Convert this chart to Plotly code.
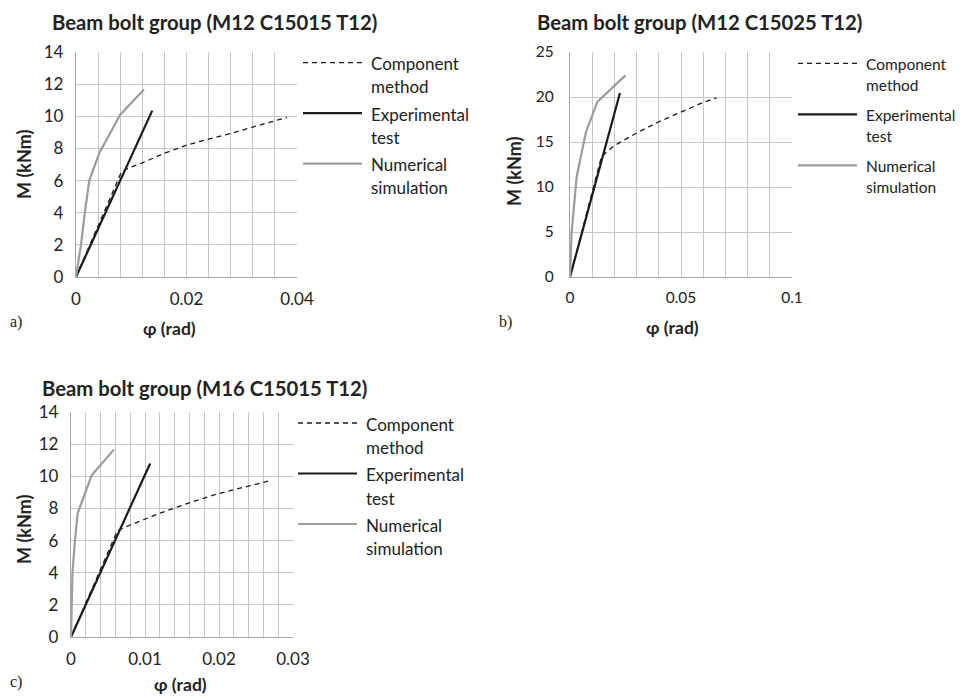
import plotly.graph_objects as go

# ---------------- data ----------------
series_names = ["Component method", "Experimental test", "Numerical simulation"]
legend_lines = [["Component", "method"], ["Experimental", "test"], ["Numerical", "simulation"]]

titles = ["Beam bolt group (M12 C15015 T12)",
          "Beam bolt group (M12 C15025 T12)",
          "Beam bolt group (M16 C15015 T12)"]
panel_tags = ["a)", "b)", "c)"]

# panel a
a_comp_x = [0, 0.00825, 0.010, 0.012, 0.016, 0.020, 0.024, 0.028, 0.032, 0.0382]
a_comp_y = [0, 6.56, 6.85, 7.10, 7.70, 8.20, 8.58, 8.93, 9.33, 9.93]
a_exp_x = [0, 0.0138]
a_exp_y = [0, 10.35]
a_num_x = [0, 0.0009, 0.0016, 0.0024, 0.0042, 0.0080, 0.0123]
a_num_y = [0, 2.0, 4.0, 6.0, 7.7, 10.1, 11.66]

# panel b
b_comp_x = [0, 0.0142, 0.020, 0.030, 0.040, 0.050, 0.060, 0.066]
b_comp_y = [0, 13.4, 14.6, 16.0, 17.25, 18.35, 19.4, 19.9]
b_exp_x = [0, 0.0225]
b_exp_y = [0, 20.45]
b_num_x = [0, 0.00075, 0.0030, 0.0072, 0.0123, 0.0250]
b_num_y = [0, 5.0, 11.15, 16.1, 19.46, 22.4]

# panel c
c_comp_x = [0, 0.00627, 0.008, 0.012, 0.016, 0.020, 0.024, 0.0268]
c_comp_y = [0, 6.62, 6.97, 7.70, 8.35, 8.93, 9.39, 9.72]
c_exp_x = [0, 0.0107]
c_exp_y = [0, 10.8]
c_num_x = [0, 0.0001, 0.0002, 0.0005, 0.0009, 0.0028, 0.0058]
c_num_y = [0, 2.0, 4.0, 5.8, 7.7, 10.07, 11.66]

# axis settings per panel
x_ranges = [[0, 0.04], [0, 0.1], [0, 0.03]]
x_dticks = [0.02, 0.05, 0.01]
x_minor = [0.004, 0.01, 0.002]
y_ranges = [[0, 14], [0, 25], [0, 14]]
y_dticks = [2, 5, 2]

# ---------------- layout geometry (pixels in the final page) ----------------
W, H = 966, 699
OFF = 8  # default page body margin
# plot areas: left, right, top, bottom
areas = [(76, 297, 52, 277), (570, 792, 52, 277), (71, 293, 412, 637)]
title_pos = [(50, 21.5), (535, 21.5), (40, 387.5)]
ytitle_pos = [(24, 165), (514, 172), (24, 530)]
xtitle_pos = [(169.5, 328), (672, 327), (180, 684)]
tag_pos = [(8, 322), (497, 322), (8, 682)]
tick_size = [17, 15.5, 17]
ystandoff = [8, 12, 8]
leg_font = [17, 15.5, 17]
leg_x = [303, 798, 298]
leg_y0 = [62.7, 63.3, 423]
leg_step = [50.5, 51, 50.5]
leg_line2 = [23, 21, 23.5]


def px(x):
    return (x - OFF) / W


def py(y):
    return 1 - (y - OFF) / H


FONT = "Lato"
TXT = "#222222"
GRID = "#c6c6c6"

fig = go.Figure()

panels = [
    (a_comp_x, a_comp_y, a_exp_x, a_exp_y, a_num_x, a_num_y),
    (b_comp_x, b_comp_y, b_exp_x, b_exp_y, b_num_x, b_num_y),
    (c_comp_x, c_comp_y, c_exp_x, c_exp_y, c_num_x, c_num_y),
]

styles = [
    dict(color="#1a1a1a", width=1.3, dash="5px,4px"),
    dict(color="#1a1a1a", width=2.2),
    dict(color="#9c9c9c", width=2.2),
]

annotations = []
shapes = []

for i, (cx, cy, ex, ey, nx, ny) in enumerate(panels):
    sfx = "" if i == 0 else str(i + 1)
    xa, ya = "x" + sfx, "y" + sfx
    for name, xs, ys, st in zip(series_names, [cx, ex, nx], [cy, ey, ny], styles):
        fig.add_trace(go.Scatter(x=xs, y=ys, mode="lines", name=name, line=st,
                                 xaxis=xa, yaxis=ya, showlegend=False))
    l, r, t, b = areas[i]
    fig.update_layout(**{
        "xaxis" + sfx: dict(
            domain=[px(l), px(r)], anchor=ya, range=x_ranges[i], dtick=x_dticks[i], tick0=0,
            automargin=False,
            showgrid=True, gridcolor=GRID, gridwidth=1.3,
            minor=dict(dtick=x_minor[i], tick0=0, showgrid=True, gridcolor=GRID, gridwidth=1.3),
            showline=True, linecolor="#a6a6a6", linewidth=1.3, zeroline=False,
            ticks="", tickfont=dict(family=FONT, size=tick_size[i], color=TXT), ticklabelstandoff=6,
            fixedrange=True),
        "yaxis" + sfx: dict(
            domain=[py(b), py(t)], anchor=xa, range=y_ranges[i], dtick=y_dticks[i], tick0=0,
            automargin=False,
            showgrid=True, gridcolor=GRID, gridwidth=1.3,
            showline=True, linecolor="#a6a6a6", linewidth=1.3, zeroline=False,
            ticks="", tickfont=dict(family=FONT, size=tick_size[i], color=TXT),
            ticklabelstandoff=ystandoff[i],
            fixedrange=True),
    })

    # title
    tx, ty = title_pos[i]
    annotations.append(dict(text="<b>" + titles[i] + "</b>", xref="paper", yref="paper",
                            x=px(tx), y=py(ty), xanchor="left", yanchor="middle",
                            showarrow=False, font=dict(family=FONT, size=20.3, color=TXT)))
    # axis titles
    yx, yy_ = ytitle_pos[i]
    annotations.append(dict(text="<b>M (kNm)</b>", xref="paper", yref="paper",
                            x=px(yx), y=py(yy_), xanchor="center", yanchor="middle",
                            textangle=-90, showarrow=False, font=dict(family=FONT, size=18, color=TXT)))
    xx, xy = xtitle_pos[i]
    annotations.append(dict(text="<b>φ (rad)</b>", xref="paper", yref="paper",
                            x=px(xx), y=py(xy), xanchor="center", yanchor="middle",
                            showarrow=False, font=dict(family=FONT, size=17.5, color=TXT)))
    # panel tag
    gx, gy = tag_pos[i]
    annotations.append(dict(text=panel_tags[i], xref="paper", yref="paper",
                            x=px(gx), y=py(gy), xanchor="left", yanchor="middle",
                            showarrow=False, font=dict(family="Liberation Serif", size=16, color=TXT)))
    # legend (drawn beside each plot)
    lx = leg_x[i]
    for k, (st, lines_) in enumerate(zip(styles, legend_lines)):
        yy = leg_y0[i] + leg_step[i] * k
        shapes.append(dict(type="line", xref="paper", yref="paper",
                           x0=px(lx), x1=px(lx + 59), y0=py(yy), y1=py(yy),
                           line=dict(color=st["color"], width=st["width"], dash=st.get("dash", "solid"))))
        for j, txt in enumerate(lines_):
            annotations.append(dict(text=txt, xref="paper", yref="paper",
                                    x=px(lx + 66), y=py(yy + 1 + leg_line2[i] * j), xanchor="left",
                                    yanchor="middle", showarrow=False,
                                    font=dict(family=FONT, size=leg_font[i], color=TXT)))

fig.update_layout(
    width=W, height=H, margin=dict(l=0, r=0, t=0, b=0),
    paper_bgcolor="white", plot_bgcolor="white",
    showlegend=False, annotations=annotations, shapes=shapes,
    font=dict(family=FONT, color=TXT),
)

fig.write_html("out.html")
